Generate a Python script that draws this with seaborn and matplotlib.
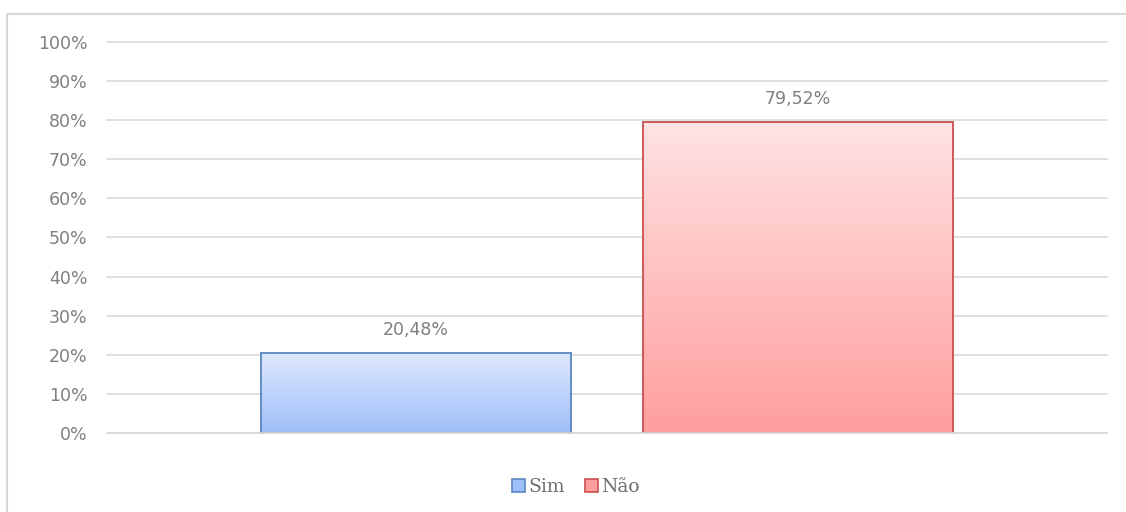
import numpy as np
import pandas as pd
import seaborn as sns
import matplotlib.pyplot as plt
from matplotlib.colors import LinearSegmentedColormap
from matplotlib.patches import Rectangle
from matplotlib.ticker import MultipleLocator, FuncFormatter

categories = ["Sim", "Não"]
values = [0.2048, 0.7952]
tick_values = [i / 10 for i in range(11)]

colors_top = ["#dfe9fc", "#ffe3e3"]
colors_bottom = ["#9fbff9", "#ff9e9e"]
edge_colors = ["#5b86c2", "#c9504d"]

df = pd.DataFrame({"grupo": ["" for _ in categories], "resposta": categories, "valor": values})

sns.set_style("white")
plt.rcParams["font.family"] = ["DejaVu Sans"]

fig = plt.figure(figsize=(11.26, 5.12), dpi=100)
ax = fig.add_axes([107 / 1126, 1 - 433 / 512, 1000 / 1126, 391 / 512])

sns.barplot(data=df, x="grupo", y="valor", hue="resposta", hue_order=categories,
            palette=colors_bottom, width=0.765, gap=0.19, ax=ax, legend=False)

ax.yaxis.set_major_locator(MultipleLocator(0.1))
ax.yaxis.set_major_formatter(FuncFormatter(lambda v, p: f"{v * 100:.0f}%"))
ax.grid(axis="y", color="#d9d9d9", linewidth=1.2)
for gl in ax.get_ygridlines():
    gl.set_clip_on(False)
ax.set_axisbelow(True)
for s in ["left", "right", "top"]:
    ax.spines[s].set_visible(False)
ax.spines["bottom"].set_color("#d9d9d9")
ax.spines["bottom"].set_linewidth(1.2)
ax.tick_params(axis="y", length=0, labelsize=12.5, labelcolor="#7f7f7f", pad=14)
ax.tick_params(axis="x", length=0)
ax.set_xticklabels([])
ax.set_xlabel("")
ax.set_ylabel("")

# gradient fill inside each bar
for i, bar in enumerate(ax.patches[:len(categories)]):
    x0, y0 = bar.get_x(), bar.get_y()
    w, h = bar.get_width(), bar.get_height()
    cmap = LinearSegmentedColormap.from_list("g", [colors_bottom[i], colors_top[i]])
    grad = np.linspace(0, 1, 256).reshape(-1, 1)
    img = ax.imshow(grad, cmap=cmap, aspect="auto", origin="lower",
                    extent=[x0, x0 + w, y0, y0 + h], zorder=bar.get_zorder())
    img.set_clip_path(bar)
    bar.set_facecolor("none")
    bar.set_edgecolor(edge_colors[i])
    bar.set_linewidth(1.3)
    bar.set_zorder(bar.get_zorder() + 1)
    lbl = f"{values[i] * 100:.2f}%".replace(".", ",")
    ax.annotate(lbl, (x0 + w / 2, y0 + h), xytext=(0, 10), textcoords="offset points",
                ha="center", va="bottom", fontsize=12.5, color="#7f7f7f")
ax.set_xlim(-0.5, 0.5)
ax.set_ylim(0, 1.0)

# legend
handles = [Rectangle((0, 0), 1, 1, facecolor=colors_bottom[i], edgecolor=edge_colors[i], linewidth=1.2)
           for i in range(len(categories))]
fig.legend(handles, categories, loc="center", bbox_to_anchor=(576 / 1126, 1 - 487 / 512),
           ncol=2, frameon=False, handlelength=0.7, handleheight=0.7, handletextpad=0.15,
           columnspacing=1.1, prop={"family": "DejaVu Serif", "size": 13.5}, labelcolor="#6f6f6f")

# chart border
fig.patches.append(Rectangle((7 / 1126, -0.05), 1.1, 1.05 - 14 / 512, transform=fig.transFigure,
                             fill=False, edgecolor="#d9d9d9", linewidth=1.5))

fig.savefig("out.png", dpi=100)
